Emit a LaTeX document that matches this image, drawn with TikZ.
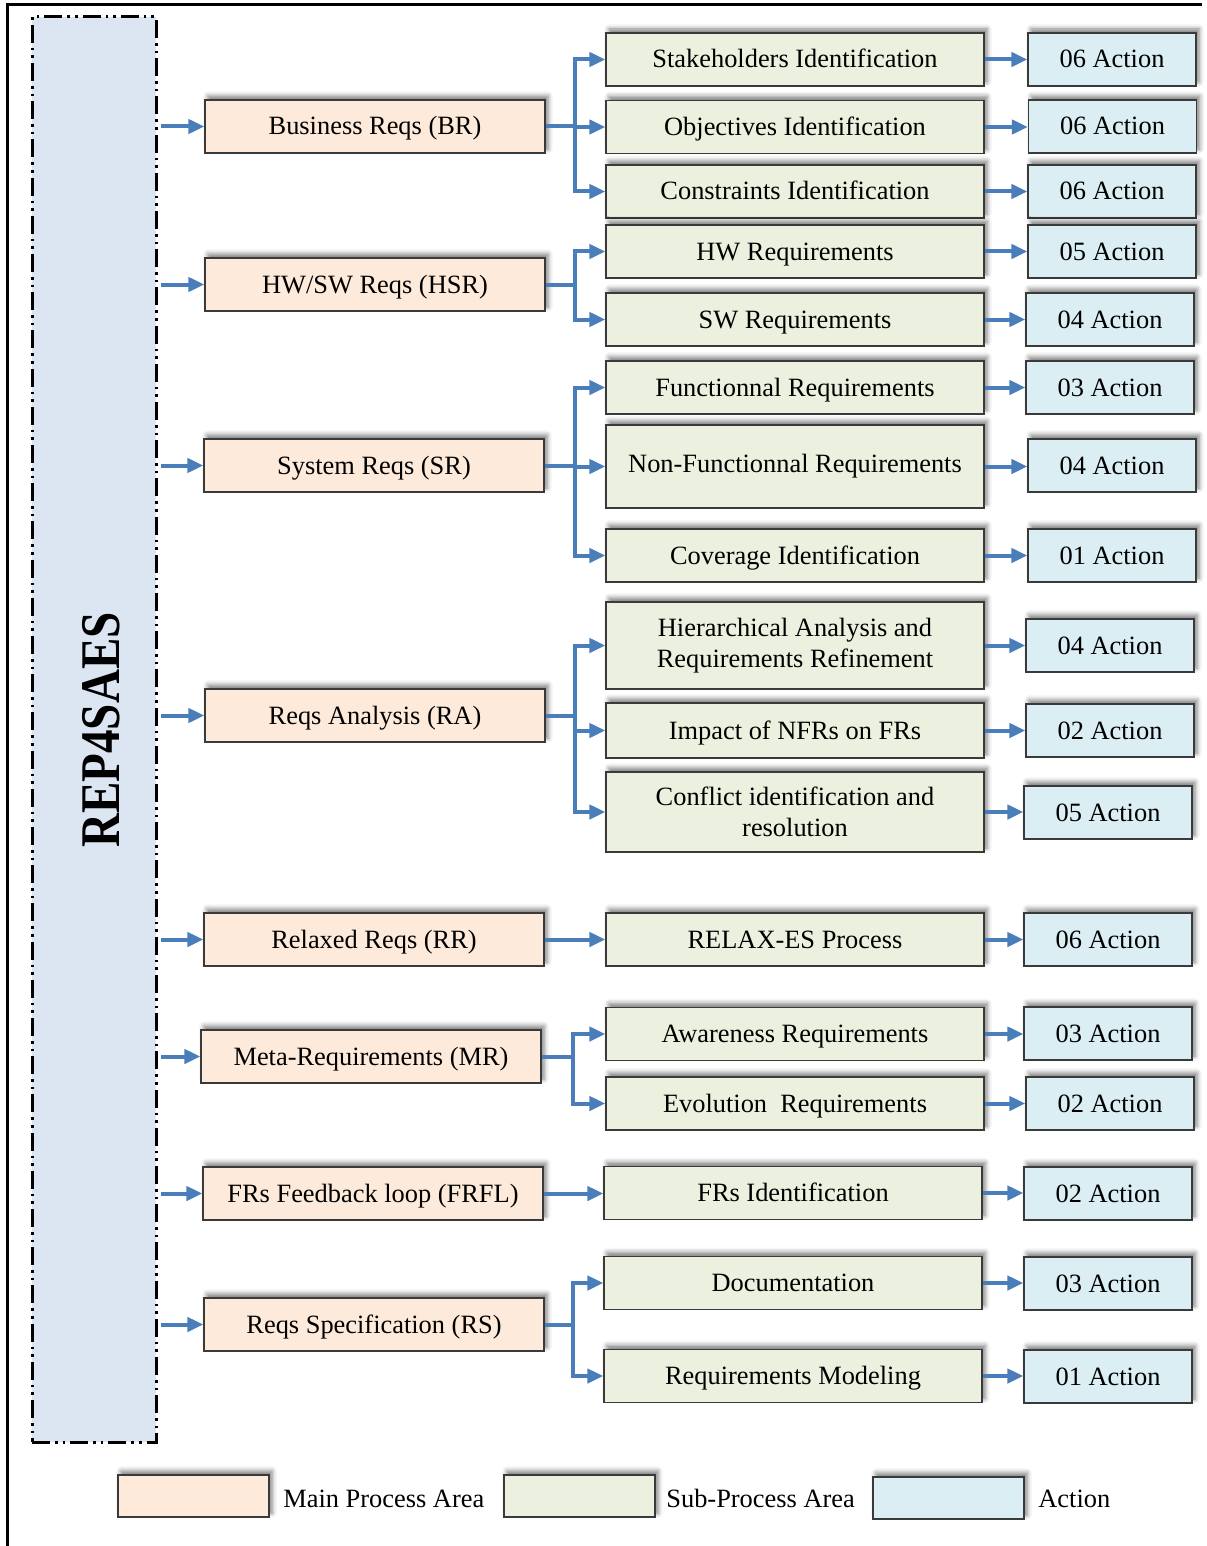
\documentclass[tikz,border=0pt]{standalone}
\usepackage{fontspec}
\setmainfont{Liberation Serif}
\usetikzlibrary{arrows.meta,shadows.blur}
\definecolor{mainfill}{HTML}{FDEADA}
\definecolor{subfill}{HTML}{EBF1DE}
\definecolor{actfill}{HTML}{DBEEF4}
\definecolor{barfill}{HTML}{DCE6F2}
\definecolor{flow}{HTML}{4A7EBB}
\definecolor{edge}{HTML}{3A3A3A}

\begin{document}
\begin{tikzpicture}[x=0.5pt,y=-0.5pt,
  box/.style={draw=edge, line width=0.6pt, rectangle, inner sep=2pt, align=center,
    font=\fontsize{13.2}{15.5}\selectfont,
    blur shadow={shadow xshift=1.5pt, shadow yshift=2pt, shadow blur radius=2.4pt, shadow opacity=52}},
  oneline/.style={text height=10pt, text depth=1.5pt},
  mainbox/.style={box, oneline, fill=mainfill, minimum width=170pt, minimum height=26.5pt},
  subbox/.style={box, fill=subfill, minimum width=189pt, minimum height=#1},
  subbox/.default=26.5pt,
  actbox/.style={box, oneline, fill=actfill, minimum width=84pt, minimum height=26.5pt},
  keybox/.style={box, minimum width=75.5pt, minimum height=21pt},
  keytext/.style={anchor=base west, inner sep=0pt, font=\fontsize{13.2}{15.5}\selectfont},
  flowline/.style={draw=flow, line width=2pt},
  flowarrow/.style={flowline, -{Triangle[length=8pt,width=7pt]}},
]
\useasboundingbox (0,0) rectangle (1206,1546);

% frame
\draw[line width=1.5pt] (7,1546) -- (7,5) -- (1202,5);

% left bar with the method name
\node[draw, line width=1.5pt, fill=barfill, inner sep=0pt,
      dash pattern=on 9pt off 2.5pt on 1.3pt off 2.5pt on 1.3pt off 2.5pt,
      minimum width=62pt, minimum height=712.5pt] (bar) at (94,729.5) {};
\node[rotate=90, inner sep=0pt, font=\fontsize{28}{30}\selectfont\bfseries]
  (title) at (101.5,730) {\scalebox{0.84}[1]{REP4SAES}};

% main process areas
\node[mainbox] (br)   at (375,126.5)  {Business Reqs (BR)};
\node[mainbox] (hsr)  at (375,284.5)  {HW/SW Reqs (HSR)};
\node[mainbox] (sr)   at (374,465.5)  {System Reqs (SR)};
\node[mainbox] (ra)   at (375,715.5)  {Reqs Analysis (RA)};
\node[mainbox] (rr)   at (374,939.5)  {Relaxed Reqs (RR)};
\node[mainbox] (mr)   at (371,1056.5) {Meta-Requirements (MR)};
\node[mainbox] (frfl) at (373,1193.5) {FRs Feedback loop (FRFL)};
\node[mainbox] (rs)   at (374,1324.5) {Reqs Specification (RS)};

% sub-process areas
\node[subbox, oneline] (s1)  at (795,59.5)   {Stakeholders Identification};
\node[subbox, oneline] (s2)  at (795,127)    {Objectives Identification};
\node[subbox, oneline] (s3)  at (795,191.5)  {Constraints Identification};
\node[subbox, oneline] (s4)  at (795,251.5)  {HW Requirements};
\node[subbox, oneline] (s5)  at (795,319.5)  {SW Requirements};
\node[subbox, oneline] (s6)  at (795,387.5)  {Functionnal Requirements};
\node[subbox=41.5pt] (s7)  at (795,466.5)  {Non-Functionnal Requirements};
\node[subbox, oneline] (s8)  at (795,555.5)  {Coverage Identification};
\node[subbox=43.5pt] (s9)  at (795,645.5)  {Hierarchical Analysis and\\Requirements Refinement};
\node[subbox=27.5pt, oneline] (s10) at (795,730.5)  {Impact of NFRs on FRs};
\node[subbox=40pt] (s11) at (795,812)    {Conflict identification and\\resolution};
\node[subbox, oneline] (s12) at (795,939.5)  {RELAX-ES Process};
\node[subbox, oneline] (s13) at (795,1034)   {Awareness Requirements};
\node[subbox, oneline] (s14) at (795,1103.5) {Evolution\ \ Requirements};
\node[subbox, oneline] (s15) at (793,1193)   {FRs Identification};
\node[subbox, oneline] (s16) at (793,1283)   {Documentation};
\node[subbox, oneline] (s17) at (793,1376)   {Requirements Modeling};

% actions
\node[actbox] (a1)  at (1112,59.5)   {06 Action};
\node[actbox] (a2)  at (1112.5,126.5) {06 Action};
\node[actbox] (a3)  at (1112,191.5)  {06 Action};
\node[actbox] (a4)  at (1112,251.5)  {05 Action};
\node[actbox] (a5)  at (1110,319.5)  {04 Action};
\node[actbox] (a6)  at (1110,387.5)  {03 Action};
\node[actbox] (a7)  at (1112,465.5)  {04 Action};
\node[actbox] (a8)  at (1112,555.5)  {01 Action};
\node[actbox] (a9)  at (1110,645.5)  {04 Action};
\node[actbox] (a10) at (1110,730.5)  {02 Action};
\node[actbox] (a11) at (1108,812.5)  {05 Action};
\node[actbox] (a12) at (1108,939.5)  {06 Action};
\node[actbox] (a13) at (1108,1033.5) {03 Action};
\node[actbox] (a14) at (1110,1103.5) {02 Action};
\node[actbox] (a15) at (1108,1193.5) {02 Action};
\node[actbox] (a16) at (1108,1283.5) {03 Action};
\node[actbox] (a17) at (1108,1376.5) {01 Action};

% bar to main process areas
\foreach \m in {br,hsr,sr,ra,rr,mr,frfl,rs}
  \draw[flowarrow, shorten <=1.5pt] (bar.east |- \m.west) -- (\m.west);

% main process areas to their sub-process areas
\coordinate (busA) at (575,0);
\coordinate (busB) at (573,0);
\foreach \m/\s in {br/s1,br/s2,br/s3,hsr/s4,hsr/s5,sr/s6,sr/s7,sr/s8,ra/s9,ra/s10,ra/s11}
  \draw[flowarrow] (\m.east) -- (\m.east -| busA) |- (\s.west);
\foreach \m/\s in {mr/s13,mr/s14,rs/s16,rs/s17}
  \draw[flowarrow] (\m.east) -- (\m.east -| busB) |- (\s.west);
\draw[flowarrow] (rr.east) -- (s12.west);
\draw[flowarrow] (frfl.east) -- (frfl.east -| s15.west);

% sub-process areas to actions
\foreach \i in {1,...,17}
  \draw[flowarrow] (s\i.east) -- (s\i.east -| a\i.west);

% key
\node[keybox, fill=mainfill] (k1) at (193.5,1496) {};
\node[keytext] (k1t) at (283,1507) {Main Process Area};
\node[keybox, fill=subfill] (k2) at (579.5,1496) {};
\node[keytext] (k2t) at (666,1507) {Sub-Process Area};
\node[keybox, fill=actfill] (k3) at (948.5,1498) {};
\node[keytext] (k3t) at (1038,1507) {Action};
\end{tikzpicture}
\end{document}
